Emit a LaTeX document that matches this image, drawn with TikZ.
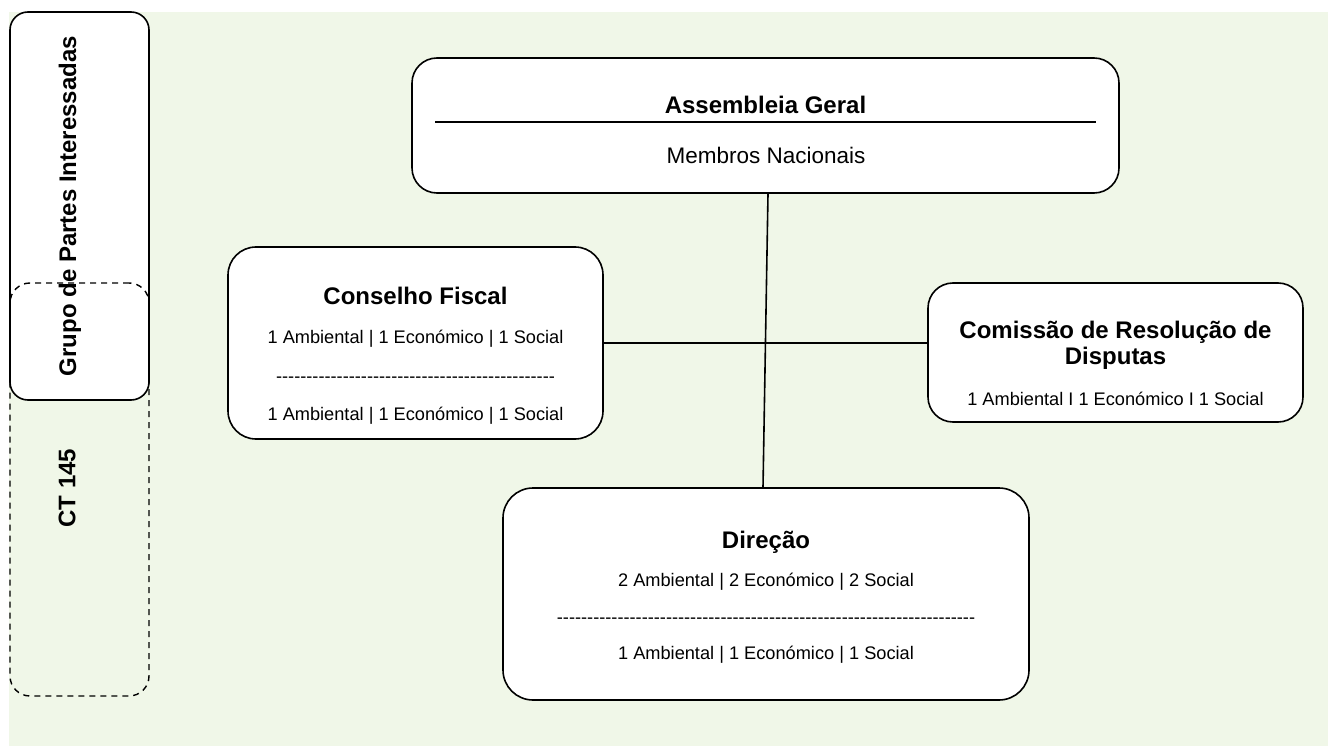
\documentclass[tikz,border=0pt]{standalone}
\usepackage{fontspec}
\setmainfont{Liberation Sans}[Ligatures=TeXOff]
\definecolor{bgreen}{RGB}{240,247,232}
\tikzset{
  box/.style={draw=black, line width=1.6pt, fill=white, inner sep=0pt, rectangle},
  dbox/.style={draw=black, line width=1.4pt, dash pattern=on 6pt off 5pt, inner sep=0pt, rectangle},
  ttl/.style={font=\fontsize{24}{28}\selectfont\bfseries, anchor=base, inner sep=0pt},
  sub/.style={font=\fontsize{18.2}{22}\selectfont, anchor=base, inner sep=0pt},
  conn/.style={draw=black, line width=1.6pt}
}
\newcommand{\dashrow}[1]{\foreach \i in {1,...,#1}{-}}
\begin{document}
\begin{tikzpicture}[x=1pt,y=-1pt]
\useasboundingbox (0,0) rectangle (1328,746);
\fill[bgreen] (9,12) rectangle (1328,746);

% left column
\node[box, rounded corners=18pt, minimum width=139pt, minimum height=388pt] (gpi) at (79.5,206) {};
\node[dbox, rounded corners=20pt, minimum width=139pt, minimum height=413pt] (ct) at (79.5,489.5) {};
\node[font=\fontsize{24}{28}\selectfont\bfseries, rotate=90, inner sep=0pt] (gpit) at (70,206) {Grupo de Partes Interessadas};
\node[font=\fontsize{24}{28}\selectfont\bfseries, rotate=90, inner sep=0pt] (ctt) at (67,488) {CT 145};

% Assembleia Geral
\node[box, rounded corners=25pt, minimum width=707pt, minimum height=135pt] (ag) at (765.5,125.5) {};
\node[ttl] (agt) at (765.5,114) {Assembleia Geral};
\draw[line width=1.4pt] (435,122) coordinate (agl1) -- (1096,122) coordinate (agl2);
\node[font=\fontsize{22.5}{26}\selectfont, anchor=base, inner sep=0pt] (ags) at (766,164) {Membros Nacionais};

% Conselho Fiscal
\node[box, rounded corners=28pt, minimum width=375pt, minimum height=192pt] (cf) at (415.5,343) {};
\node[ttl] (cft) at (415.5,304) {Conselho Fiscal};
\node[sub] (cf1) at (415.5,343) {1 Ambiental | 1 Económico | 1 Social};
\node[sub] (cfd) at (415.5,382) {\dashrow{46}};
\node[sub] (cf2) at (415.5,420) {1 Ambiental | 1 Económico | 1 Social};

% Comissao
\node[box, rounded corners=25pt, minimum width=375pt, minimum height=139pt] (crd) at (1115.5,352.5) {};
\node[ttl] (crdt1) at (1115.5,338) {Comissão de Resolução de};
\node[ttl] (crdt2) at (1115.5,364.5) {Disputas};
\node[sub] (crd1) at (1115.5,405) {1 Ambiental I 1 Económico I 1 Social};

% Direcao
\node[box, rounded corners=30pt, minimum width=526pt, minimum height=212pt] (dir) at (766,594) {};
\node[ttl] (dirt) at (766,548) {Direção};
\node[sub] (dir1) at (766,586) {2 Ambiental | 2 Económico | 2 Social};
\node[sub] (dird) at (766,623) {\dashrow{69}};
\node[sub] (dir2) at (766,659) {1 Ambiental | 1 Económico | 1 Social};

% connectors
\draw[conn] ([xshift=2.5pt]ag.south) -- ([xshift=-3pt]dir.north);
\draw[conn] (cf.east) -- (crd.west |- cf.east);
\end{tikzpicture}
\end{document}
